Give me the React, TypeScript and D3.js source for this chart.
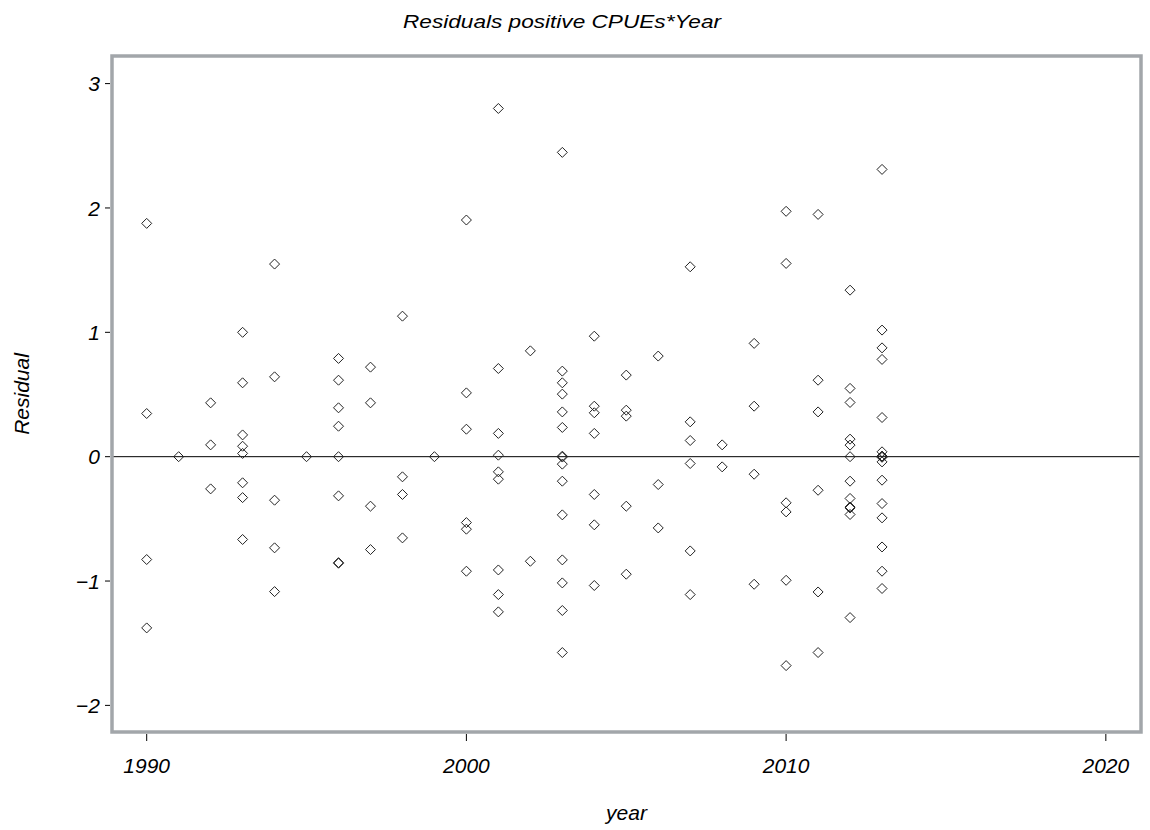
import React from "react";
import * as d3 from "d3";

const title = "Residuals positive CPUEs*Year";
const xLabel = "year";
const yLabel = "Residual";
const xTicks = [1990, 2000, 2010, 2020];
const yTicks = [-2, -1, 0, 1, 2, 3];

const years = [1990, 1991, 1992, 1993, 1994, 1995, 1996, 1997, 1998, 1999, 2000, 2001, 2002, 2003, 2004, 2005, 2006, 2007, 2008, 2009, 2010, 2011, 2012, 2013];

const residualsByYear: number[][] = [
  [1.876, 0.347, -0.827, -1.377],
  [0],
  [0.433, 0.095, -0.259],
  [1.0, 0.594, 0.175, 0.084, 0.026, -0.21, -0.329, -0.666],
  [1.549, 0.642, -0.35, -0.733, -1.085],
  [0],
  [0.79, 0.615, 0.393, 0.245, 0, -0.315, -0.852, -0.857],
  [0.72, 0.433, -0.398, -0.747],
  [1.13, -0.162, -0.304, -0.653],
  [0],
  [1.903, 0.513, 0.221, -0.53, -0.583, -0.921],
  [2.8, 0.709, 0.187, 0.012, -0.122, -0.181, -0.911, -1.109, -1.248],
  [0.851, -0.841],
  [2.447, 0.688, 0.594, 0.503, 0.36, 0.235, 0.004, -0.003, -0.06, -0.197, -0.468, -0.83, -1.015, -1.237, -1.575],
  [0.969, 0.406, 0.353, 0.187, -0.304, -0.548, -1.036],
  [0.656, 0.374, 0.326, -0.398, -0.945],
  [0.809, -0.224, -0.573],
  [1.527, 0.28, 0.13, -0.055, -0.758, -1.109],
  [0.095, -0.082],
  [0.911, 0.406, -0.141, -1.026],
  [1.973, 1.554, -0.371, -0.444, -0.994, -1.68],
  [1.948, 0.615, 0.36, -0.27, -1.088, -1.575],
  [1.339, 0.549, 0.436, 0.141, 0.093, 0, -0.197, -0.336, -0.405, -0.412, -0.465, -1.294],
  [2.31, 1.018, 0.875, 0.782, 0.315, 0.039, 0.005, 0, -0.005, -0.042, -0.189, -0.377, -0.492, -0.726, -0.921, -1.06],
];

export default function App() {
  const W = 1150;
  const H = 830;
  const left = 112, right = 1141, top = 56, bottom = 732;
  const x = d3.scaleLinear().domain([1988.915, 2021.1]).range([left, right]);
  const y = d3.scaleLinear().domain([-2.214, 3.222]).range([bottom, top]);

  const points: { yr: number; v: number }[] = [];
  years.forEach((yr, i) => residualsByYear[i].forEach((v) => points.push({ yr, v })));

  const diamond = "M0,-5L5,0L0,5L-5,0Z";
  const font = "'Liberation Sans', Arial, sans-serif";
  const frameColor = "#a2a6aa";

  return (
    <svg width={W} height={H} style={{ position: "absolute", left: 0, top: 0, background: "#fff" }}>
      <rect x={0} y={0} width={W} height={H} fill="#fff" />
      <text x={562} y={28} textAnchor="middle" fontFamily={font} fontStyle="italic" fontSize={18} fill="#000" textLength={318} lengthAdjust="spacingAndGlyphs">
        {title}
      </text>
      {/* zero reference line */}
      <line x1={left} x2={right} y1={y(0)} y2={y(0)} stroke="#000" strokeWidth={1} />
      {/* points */}
      {points.map((p, i) => (
        <path key={i} d={diamond} transform={`translate(${x(p.yr)},${y(p.v)})`} fill="none" stroke="#222" strokeWidth={1} />
      ))}
      {/* frame */}
      <rect x={left} y={top} width={right - left} height={bottom - top} fill="none" stroke={frameColor} strokeWidth={3.5} />
      {/* y ticks */}
      {yTicks.map((t) => (
        <g key={t}>
          <line x1={left - 7} x2={left - 2} y1={y(t)} y2={y(t)} stroke="#000" strokeWidth={1} />
          <text x={left - 12} y={y(t)} dy="0.36em" textAnchor="end" fontFamily={font} fontStyle="italic" fontSize={21} fill="#000">
            {t < 0 ? "\u2212" + Math.abs(t) : t}
          </text>
        </g>
      ))}
      {/* x ticks */}
      {xTicks.map((t) => (
        <g key={t}>
          <line x1={x(t)} x2={x(t)} y1={bottom + 2} y2={bottom + 9} stroke="#000" strokeWidth={1} />
          <text x={x(t)} y={773} textAnchor="middle" fontFamily={font} fontStyle="italic" fontSize={21} fill="#000">
            {t}
          </text>
        </g>
      ))}
      <text x={(left + right) / 2} y={820} textAnchor="middle" fontFamily={font} fontStyle="italic" fontSize={21} fill="#000">
        {xLabel}
      </text>
      <text transform={`translate(29,${(top + bottom) / 2}) rotate(-90)`} textAnchor="middle" fontFamily={font} fontStyle="italic" fontSize={21} fill="#000">
        {yLabel}
      </text>
    </svg>
  );
}
